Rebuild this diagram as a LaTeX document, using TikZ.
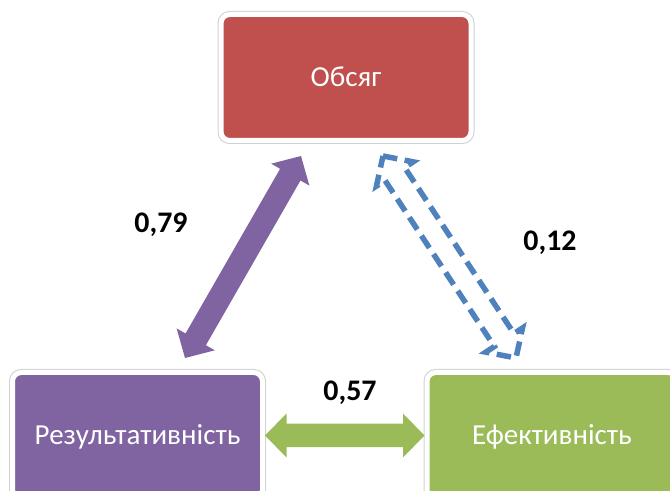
\documentclass[tikz,border=0pt]{standalone}
\usepackage{fontspec}
\setmainfont{Carlito}
\usetikzlibrary{calc}

\definecolor{boxred}{HTML}{C0504D}
\definecolor{boxpurple}{HTML}{8064A2}
\definecolor{boxgreen}{HTML}{9BBB59}
\definecolor{linkblue}{HTML}{4F81BD}

% double block arrow from #2 to #3
\newcommand{\blockarrow}[3]{%
    \draw[#1] (#2)
        -- ($(#2)!0.86cm!(#3)!0.88cm!90:(#3)$)
        -- ($(#2)!0.86cm!(#3)!0.47cm!90:(#3)$)
        -- ($(#3)!0.86cm!(#2)!0.47cm!-90:(#2)$)
        -- ($(#3)!0.86cm!(#2)!0.88cm!-90:(#2)$)
        -- (#3)
        -- ($(#3)!0.86cm!(#2)!0.88cm!90:(#2)$)
        -- ($(#3)!0.86cm!(#2)!0.47cm!90:(#2)$)
        -- ($(#2)!0.86cm!(#3)!0.47cm!-90:(#3)$)
        -- ($(#2)!0.86cm!(#3)!0.88cm!-90:(#3)$)
        -- cycle;}

\begin{document}
\begin{tikzpicture}[
        box/.style={rectangle, rounded corners=0.35cm,
                    minimum width=10cm, minimum height=5.04cm, inner sep=0pt,
                    draw=white, line width=0.2cm,
                    preaction={draw=black!18, line width=0.28cm},
                    text=white, font=\fontsize{33}{40}\selectfont,
                    text height=21pt, text depth=0pt},
        coef/.style={anchor=base, font=\fontsize{34}{40}\selectfont\bfseries},
    ]
    \useasboundingbox (0cm, 0cm) rectangle (26.8cm, -19.64cm);

    \node[box, fill=boxred] (obsyag) at (13.84cm, -3.1cm) {Обсяг};
    \node[box, fill=boxpurple] (rezult) at (5.5cm, -17.42cm) {Результативність};
    \node[box, fill=boxgreen] (efekt) at (22.08cm, -17.42cm) {Ефективність};

    \coordinate (rezult-end) at (7.4cm, -14.32cm);
    \coordinate (obsyag-left) at (12.04cm, -6.24cm);
    \coordinate (obsyag-right) at (15.32cm, -6.24cm);
    \coordinate (efekt-end) at (20.64cm, -14.32cm);

    \blockarrow{fill=boxpurple, draw=none}{rezult-end}{obsyag-left}
    \blockarrow{draw=linkblue, line width=0.22cm, dash pattern=on 0.58cm off 0.3cm}{obsyag-right}{efekt-end}
    \blockarrow{fill=boxgreen, draw=none}{rezult.east}{efekt.west}

    \node[coef] (k79) at (6.44cm, -9.32cm) {0,79};
    \node[coef] (k12) at (22.0cm, -10.04cm) {0,12};
    \node[coef] (k57) at (14.0cm, -16.04cm) {0,57};

    \end{tikzpicture}
\end{document}
